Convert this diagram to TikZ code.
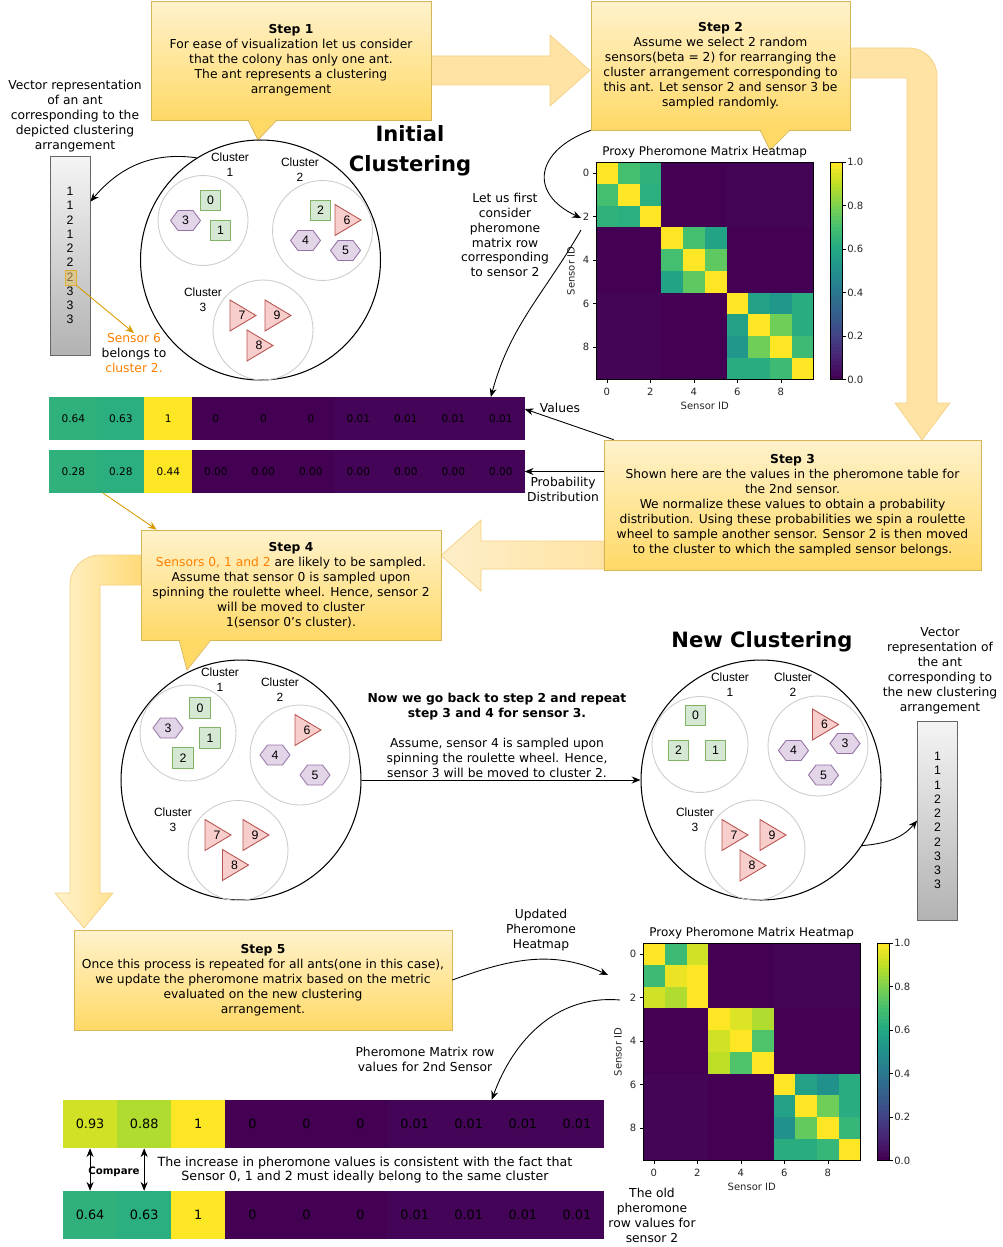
\documentclass[tikz,border=0pt]{standalone}
\usepackage{fontspec}
\setmainfont{DejaVu Sans}
\newfontfamily\arialfont{Liberation Sans}
\usetikzlibrary{arrows.meta,calc}

\definecolor{calltop}{HTML}{FFF2CC}
\definecolor{callbot}{HTML}{FFD966}
\definecolor{callline}{HTML}{D6B656}
\definecolor{arrowfill}{HTML}{FEE3A4}
\definecolor{arrowline}{HTML}{F3D184}
\definecolor{arrowdeep}{HTML}{FFDA78}
\definecolor{sqfill}{HTML}{D5E8D4}
\definecolor{sqline}{HTML}{82B366}
\definecolor{hexfill}{HTML}{E1D5E7}
\definecolor{hexline}{HTML}{9673A6}
\definecolor{trifill}{HTML}{F8CECC}
\definecolor{triline}{HTML}{B85450}
\definecolor{orline}{HTML}{D79B00}
\definecolor{ortext}{HTML}{FF8000}
% viridis anchors
\definecolor{vir0}{HTML}{440154}
\definecolor{vir1}{HTML}{482475}
\definecolor{vir2}{HTML}{414487}
\definecolor{vir3}{HTML}{355F8D}
\definecolor{vir4}{HTML}{2A788E}
\definecolor{vir5}{HTML}{21918C}
\definecolor{vir6}{HTML}{22A884}
\definecolor{vir7}{HTML}{44BF70}
\definecolor{vir8}{HTML}{7AD151}
\definecolor{vir9}{HTML}{BDDF26}
\definecolor{vir10}{HTML}{FDE725}

\newcommand{\setvir}[1]{%
  \pgfmathtruncatemacro{\vlo}{min(int(#1*10),9)}%
  \pgfmathtruncatemacro{\vhi}{\vlo+1}%
  \pgfmathtruncatemacro{\vpc}{round((#1*10-\vlo)*100)}%
  \colorlet{vcell}{vir\vhi!\vpc!vir\vlo}}

\tikzset{
  stepbox/.style={draw=callline, top color=calltop, bottom color=callbot, align=center,
    inner sep=0pt, font=\fontsize{7}{8.5}\selectfont},
  bigarrow/.style={fill=arrowfill, draw=arrowline, line width=0.4pt},
  plain/.style={align=center, inner sep=0pt, font=\fontsize{7}{8.5}\selectfont},
  bigtitle/.style={align=center, inner sep=0pt, font=\bfseries\fontsize{12}{17}\selectfont},
  cluslab/.style={align=center, inner sep=0pt, font=\arialfont\fontsize{6.8}{8.5}\selectfont},
  bigcirc/.style={circle, draw, line width=0.6pt, inner sep=0pt},
  subcirc/.style={circle, draw=black!20, line width=0.5pt, inner sep=0pt},
  sq/.style={draw=sqline, fill=sqfill, minimum size=0.41cm, inner sep=0pt,
    font=\arialfont\fontsize{7}{8}\selectfont},
  numlab/.style={inner sep=0pt, font=\arialfont\fontsize{7}{8}\selectfont},
  vecbox/.style={draw=black!60, top color=black!4, bottom color=black!30, minimum width=0.8cm,
    minimum height=3.98cm, align=center, inner sep=0pt, font=\arialfont\fontsize{7}{8.1}\selectfont},
  hlbox/.style={draw=orline!80, fill=orline!60, fill opacity=0.55, minimum width=0.22cm,
    minimum height=0.3cm, inner sep=0pt},
  conn/.style={-{Stealth[length=5pt,width=4pt]}, line width=0.5pt},
  orconn/.style={conn, draw=orline},
  dconn/.style={{Stealth[length=5pt,width=4pt]}-{Stealth[length=5pt,width=4pt]}, line width=0.5pt},
  ticklab/.style={inner sep=0pt, text=black!85, font=\fontsize{5.7}{6}\selectfont},
  hmtitle/.style={inner sep=0pt, font=\fontsize{6.8}{8}\selectfont},
  cellbox/.style={inner sep=0pt, outer sep=0pt},
  topcell/.style={cellbox, minimum width=0.955cm, minimum height=0.86cm, font=\fontsize{6}{7}\selectfont},
  botcell/.style={cellbox, minimum width=1.087cm, minimum height=0.97cm, font=\fontsize{7.3}{8}\selectfont},
  cmplab/.style={inner sep=0pt, font=\bfseries\fontsize{5.8}{7}\selectfont},
}

% hexagon and triangle sensors: name, centre, label
\newcommand{\hexa}[3]{%
  \filldraw[fill=hexfill, draw=hexline, line width=0.5pt] ($(#2)+(-15,0)$) -- ++(7.5,-10) -- ++(15,0)
    -- ++(7.5,10) -- ++(-7.5,10) -- ++(-15,0) -- cycle;
  \node[numlab] (#1) at (#2) {#3};}
\newcommand{\tria}[3]{%
  \filldraw[fill=trifill, draw=triline, line width=0.5pt] ($(#2)+(-13,-15.5)$) -- ++(0,31)
    -- ++(26,-15.5) -- cycle;
  \node[numlab] (#1) at ($(#2)+(-1,0)$) {#3};}

% heatmap: name, left, top, rows
\newcommand{\heatmap}[4]{%
  \node[hmtitle] (#1t) at (#2+108.75,#3-10) {Proxy Pheromone Matrix Heatmap};
  \foreach \hrow [count=\hr from 0] in {#4} {
    \foreach \val [count=\hc from 0] in \hrow {
      \setvir{\val}
      \fill[vcell] (#2+\hc*21.75,#3+\hr*21.75) rectangle ++(21.9,21.9);
    }
  }
  \draw[line width=0.5pt] (#2,#3) rectangle ++(217.5,217.5);
  \foreach \k in {0,2,4,6,8} {
    \draw[line width=0.4pt] (#2+\k*21.75+10.875,#3+217.5) -- ++(0,3.5);
    \node[ticklab] (#1x\k) at (#2+\k*21.75+10.875,#3+230) {\k};
    \draw[line width=0.4pt] (#2,#3+\k*21.75+10.875) -- ++(-3.5,0);
    \node[ticklab] (#1y\k) at (#2-10,#3+\k*21.75+10.875) {\k};
  }
  \node[ticklab, rotate=90] (#1yl) at (#2-25,#3+109) {Sensor ID};
  \node[ticklab] (#1xl) at (#2+108.75,#3+244) {Sensor ID};
  \foreach \k in {0,...,59} {
    \setvir{\k/59}
    \fill[vcell] (#2+234,#3+217.5-\k*3.625) rectangle ++(12,-3.7);
  }
  \draw[line width=0.5pt] (#2+234,#3) rectangle ++(12,217.5);
  \foreach \k/\txt in {0/0.0,1/0.2,2/0.4,3/0.6,4/0.8,5/1.0} {
    \draw[line width=0.4pt] (#2+246,#3+217.5-\k*43.5) -- ++(3.5,0);
    \node[ticklab, anchor=west] (#1c\k) at (#2+251,#3+217.5-\k*43.5) {\txt};
  }
}

% row of values: name, left, centre y, cell width, list, style
\newcommand{\valbar}[6]{%
  \foreach \val/\txt [count=\k from 0] in {#5} {
    \setvir{\val}
    \node[#6, fill=vcell] (#1\k) at (#2+#4*\k+#4/2,#3) {\txt};
  }
}

\begin{document}
\begin{tikzpicture}[x=0.02cm, y=-0.02cm]
\useasboundingbox (0,0) rectangle (1002,1247);

% block arrows between the steps
\path[bigarrow] (431,56) -- (550,56) -- (550,35) -- (590,70.5) -- (550,106) -- (550,85) -- (431,85) -- cycle;
\path[bigarrow] (850,48) -- (909,48) .. controls (924.5,48) and (937,60.5) .. (937,76) -- (937,403)
  -- (950,403) -- (922,440) -- (895,403) -- (907,403) -- (907,78) -- (850,78) -- cycle;
\path[bigarrow, left color=arrowfill!60!white, right color=arrowfill] (604,541) -- (481,541) -- (481,520)
  -- (441,555.5) -- (481,591) -- (481,569) -- (604,569) -- cycle;
\path[bigarrow, left color=calltop, right color=arrowdeep] (141,555) -- (100,555) .. controls (83.4,555) and (70,568.4) .. (70,585) -- (70,893)
  -- (55,893) -- (84,928) -- (113,893) -- (100,893) -- (100,585) -- (141,585) -- cycle;

% steps
\node[stepbox, minimum width=5.6cm, minimum height=2.38cm] (step1) at (291,60.5)
  {\textbf{Step 1}\\For ease of visualization let us consider\\that the colony has only one ant.\\The ant represents a clustering\\arrangement};
\fill[callbot] (248,119) -- (277,119) -- (258,140) -- cycle;
\draw[callline] (248,120) -- (258,140) -- (277,120);

\node[stepbox, minimum width=5.18cm, minimum height=2.58cm] (step2) at (720.5,65.5)
  {\textbf{Step 2}\\Assume we select 2 random\\sensors(beta = 2) for rearranging the\\cluster arrangement corresponding to\\this ant. Let sensor 2 and sensor 3 be\\sampled randomly.};
\fill[callbot] (760,129) -- (790,129) -- (770,150) -- cycle;
\draw[callline] (760,130) -- (770,150) -- (790,130);

\node[stepbox, minimum width=7.54cm, minimum height=2.6cm] (step3) at (792.5,505)
  {\textbf{Step 3}\\Shown here are the values in the pheromone table for\\the 2nd sensor.\\We normalize these values to obtain a probability\\distribution. Using these probabilities we spin a roulette\\wheel to sample another sensor. Sensor 2 is then moved\\to the cluster to which the sampled sensor belongs.};

\node[stepbox, minimum width=6cm, minimum height=2.2cm] (step4) at (291,585)
  {\textbf{Step 4}\\\textcolor{ortext}{Sensors 0, 1 and 2} are likely to be sampled.\\Assume that sensor 0 is sampled upon\\spinning the roulette wheel. Hence, sensor 2\\will be moved to cluster\\1(sensor 0's cluster).};
\fill[callbot] (179,639) -- (211,639) -- (187,670) -- cycle;
\draw[callline] (179,640) -- (187,670) -- (211,640);

\node[stepbox, minimum width=7.56cm, minimum height=2cm] (step5) at (263,980)
  {\textbf{Step 5}\\Once this process is repeated for all ants(one in this case),\\we update the pheromone matrix based on the metric\\evaluated on the new clustering\\arrangement.};

% initial clustering
\node[bigtitle] (inittitle) at (410,151) {Initial\\Clustering};
\node[bigcirc, minimum size=4.8cm] (initc) at (260.5,260) {};
\node[subcirc, minimum size=1.8cm] (initc1) at (203,220.5) {};
\node[subcirc, minimum size=2cm] (initc2) at (322.5,230.5) {};
\node[subcirc, minimum size=2cm] (initc3) at (263,330) {};
\node[cluslab] (initl1) at (230,165) {Cluster\\1};
\node[cluslab] (initl2) at (300,169.5) {Cluster\\2};
\node[cluslab] (initl3) at (203,299.5) {Cluster\\3};
\node[sq] (i0) at (210.5,200.5) {0};
\node[sq] (i1) at (220.5,230.5) {1};
\node[sq] (i2) at (320.5,210.5) {2};
\hexa{i3}{185.5,220.5}{3}
\hexa{i4}{305.5,240.5}{4}
\hexa{i5}{345.5,250.5}{5}
\tria{i6}{348,220}{6}
\tria{i7}{243,315.5}{7}
\tria{i9}{278,315.5}{9}
\tria{i8}{260,345.5}{8}

% vector of the ant
\node[plain] (vtext1) at (75,116) {Vector representation\\of an ant\\corresponding to the\\depicted clustering\\arrangement};
\node[vecbox] (vec1) at (70,255.5) {1\\1\\2\\1\\2\\2\\2\\3\\3\\3};
\node[hlbox] (hl6) at (70.5,277.5) {};
\node[plain] (sens6) at (134,353) {\textcolor{ortext}{Sensor 6}\\belongs to\\\textcolor{ortext}{cluster 2.}};

% first heatmap
\heatmap{hm1}{596}{162}{
  {1,0.70,0.64,0,0,0,0.01,0.01,0.01,0.01},
  {0.70,1,0.63,0,0,0,0.01,0.01,0.01,0.01},
  {0.64,0.63,1,0,0,0,0.01,0.01,0.01,0.01},
  {0,0,0,1,0.70,0.58,0,0,0,0},
  {0,0,0,0.70,1,0.75,0,0,0,0},
  {0,0,0,0.58,0.75,1,0,0,0,0},
  {0.01,0.01,0.01,0,0,0,1,0.57,0.52,0.62},
  {0.01,0.01,0.01,0,0,0,0.57,1,0.78,0.62},
  {0.01,0.01,0.01,0,0,0,0.52,0.78,1,0.68},
  {0.01,0.01,0.01,0,0,0,0.62,0.62,0.68,1}}
\node[plain] (letus) at (505,235) {Let us first\\consider\\pheromone\\matrix row\\corresponding\\to sensor 2};
\coordinate (hm1in) at (581,218);
\coordinate (hm1out) at (581,230);

% row of sensor 2 and its probabilities
\valbar{vals}{49.6}{418.5}{47.5}{0.64/0.64,0.63/0.63,1/1,0/0,0/0,0/0,0.01/0.01,0.01/0.01,0.01/0.01,0.01/0.01}{topcell}
\valbar{prob}{49.6}{471.5}{47.5}{0.64/0.28,0.63/0.28,1/0.44,0/0.00,0/0.00,0/0.00,0.01/0.00,0.01/0.00,0.01/0.00,0.01/0.00}{topcell}
\node[plain] (valueslab) at (560,408) {Values};
\node[plain] (problab) at (563,489.5) {Probability\\Distribution};

% clustering after step 4
\node[bigcirc, minimum size=4.8cm] (midc) at (241,780) {};
\node[subcirc, minimum size=1.92cm] (midc1) at (188,733) {};
\node[subcirc, minimum size=2cm] (midc2) at (300,755) {};
\node[subcirc, minimum size=2cm] (midc3) at (238,850.5) {};
\node[cluslab] (midl1) at (220,680) {Cluster\\1};
\node[cluslab] (midl2) at (280,690) {Cluster\\2};
\node[cluslab] (midl3) at (173,820) {Cluster\\3};
\node[sq] (m0) at (200,708) {0};
\node[sq] (m1) at (210,738) {1};
\node[sq] (m2) at (183,758) {2};
\hexa{m3}{168,728}{3}
\hexa{m4}{275,755}{4}
\hexa{m5}{315,775}{5}
\tria{m6}{308,730}{6}
\tria{m7}{218,835}{7}
\tria{m9}{256,835}{9}
\tria{m8}{235.5,865}{8}

\node[plain] (midtext) at (497,735.5) {\textbf{Now we go back to step 2 and repeat}\\\textbf{step 3 and 4 for sensor 3.}\\[8.5pt]Assume, sensor 4 is sampled upon\\spinning the roulette wheel. Hence,\\sensor 3 will be moved to cluster 2.};

% new clustering
\node[bigtitle] (newtitle) at (762,642) {New Clustering};
\node[bigcirc, minimum size=4.8cm] (newc) at (761,780) {};
\node[subcirc, minimum size=1.92cm] (newc1) at (700,744.5) {};
\node[subcirc, minimum size=2cm] (newc2) at (818,746) {};
\node[subcirc, minimum size=2cm] (newc3) at (755,850) {};
\node[cluslab] (newl1) at (730,685) {Cluster\\1};
\node[cluslab] (newl2) at (793,685) {Cluster\\2};
\node[cluslab] (newl3) at (695,820) {Cluster\\3};
\node[sq] (n0) at (695.5,715.5) {0};
\node[sq] (n2) at (678.5,750.5) {2};
\node[sq] (n1) at (715.5,750.5) {1};
\hexa{n3}{845,743.5}{3}
\hexa{n4}{793.5,750.5}{4}
\hexa{n5}{823.5,775}{5}
\tria{n6}{825.5,724.5}{6}
\tria{n7}{735,835}{7}
\tria{n9}{773,835}{9}
\tria{n8}{753,865.5}{8}

\node[plain] (vtext2) at (940,670.5) {Vector\\representation of\\the ant\\corresponding to\\the new clustering\\arrangement};
\node[vecbox] (vec2) at (937.5,820.5) {1\\1\\1\\2\\2\\2\\2\\3\\3\\3};

% updated heatmap
\heatmap{hm2}{643}{943}{
  {1,0.68,0.93,0,0,0,0.01,0.01,0.01,0.01},
  {0.68,0.97,1,0,0,0,0.01,0.01,0.01,0.01},
  {0.93,0.88,1,0,0,0,0.01,0.01,0.01,0.01},
  {0,0,0,1,0.95,0.88,0,0,0,0},
  {0,0,0,0.93,1,0.72,0,0,0,0},
  {0,0,0,0.90,0.72,1,0,0,0,0},
  {0.01,0.01,0.01,0,0,0,1,0.57,0.50,0.62},
  {0.01,0.01,0.01,0,0,0,0.57,1,0.78,0.62},
  {0.01,0.01,0.01,0,0,0,0.50,0.76,1,0.66},
  {0.01,0.01,0.01,0,0,0,0.62,0.62,0.66,1}}
\coordinate (hm2in) at (608,975);
\coordinate (hm2out) at (620,1000);
\node[plain] (updlab) at (541,930) {Updated\\Pheromone\\Heatmap};
\node[plain] (rowlab) at (425,1059) {Pheromone Matrix row\\values for 2nd Sensor};
\node[plain] (oldlab) at (652,1215.5) {The old\\pheromone\\row values for\\sensor 2};

% new and old rows of sensor 2
\valbar{newrow}{63}{1124}{54.1}{0.93/0.93,0.88/0.88,1/1,0/0,0/0,0/0,0.01/0.01,0.01/0.01,0.01/0.01,0.01/0.01}{botcell}
\valbar{oldrow}{63}{1215}{54.1}{0.64/0.64,0.63/0.63,1/1,0/0,0/0,0/0,0.01/0.01,0.01/0.01,0.01/0.01,0.01/0.01}{botcell}
\node[cmplab] (cmp) at (114,1171.5) {Compare};
\node[plain, font=\fontsize{7.2}{8.5}\selectfont] (incr) at (365,1170) {The increase in pheromone values is consistent with the fact that\\Sensor 0, 1 and 2 must ideally belong to the same cluster};

% connectors
\draw[conn] (initc.122) to[out=172,in=50] ([yshift=-0.92cm]vec1.north east);
\draw[orconn] (hl6.south east) -- (sens6.north);
\draw[conn] (step2.south west) to[out=200,in=155,looseness=1.7] (hm1in);
\draw[conn] (hm1out) to[out=240,in=75] ([xshift=-0.2cm]vals9.north);
\draw[conn] ([xshift=0.2cm]step3.north west) -- ([yshift=0.19cm]vals9.east);
\draw[conn] (step3.west |- prob9.east) -- (prob9.east);
\draw[orconn] ([xshift=0.12cm]prob1.south west) -- ([xshift=0.32cm]step4.north west);
\draw[conn] (midc.east) -- (newc.west);
\draw[conn] (newc.-33) to[out=5,in=230] (vec2.west);
\draw[conn] (step5.east) to[out=20,in=155] (hm2in);
\draw[conn] (hm2out) to[out=175,in=70] ([xshift=0.46cm]newrow7.north);
\draw[dconn] (newrow0.south) -- (oldrow0.north);
\draw[dconn] (newrow1.south) -- (oldrow1.north);
\end{tikzpicture}
\end{document}
